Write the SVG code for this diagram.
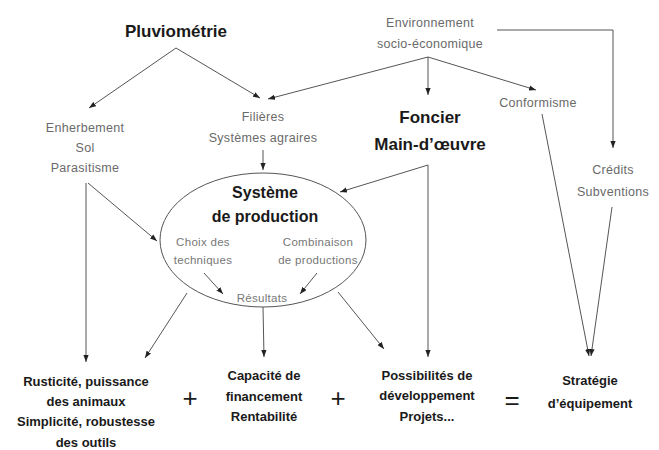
<svg xmlns="http://www.w3.org/2000/svg" width="659" height="450" viewBox="0 0 659 450">
<defs>
<marker id="ah" viewBox="0 0 8 6" refX="8" refY="3" markerWidth="7" markerHeight="5.5" markerUnits="userSpaceOnUse" orient="auto">
<path d="M0,0 L8,3 L0,6 z" fill="#222"/>
</marker>
<style>
text{font-family:"Liberation Sans",Arial,sans-serif;text-anchor:middle}
.t{font-size:12.5px;fill:#6a6a6a;letter-spacing:0.3px}
.s{font-size:11.5px;fill:#777;letter-spacing:0.3px}
.b{font-weight:bold;fill:#1a1a1a}
.big{font-size:17px}
.mid{font-size:16px}
.low{font-size:13px}
.op{font-size:26px;fill:#1a1a1a}
.c{fill:none;stroke:#555;stroke-width:1;marker-end:url(#ah)}
</style>
</defs>
<rect width="659" height="450" fill="#fff"/>
<g id="connectors">
<path class="c" d="M176,48 L89,108"/>
<path class="c" d="M176,48 L260,98"/>
<path class="c" d="M428,57 L268,99"/>
<path class="c" d="M428,57 L428,95"/>
<path class="c" d="M428,57 L536,90"/>
<path class="c" d="M497,30 L613,30 L613,148"/>
<path class="c" d="M263,150 L263,170"/>
<path class="c" d="M88,183 L157,241"/>
<path class="c" d="M86,183 L86,362"/>
<path class="c" d="M428,165 L340,192"/>
<path class="c" d="M428,165 L428,357"/>
<path class="c" d="M204,273 L223,294"/>
<path class="c" d="M317,273 L300,294"/>
<path class="c" d="M187,293 L145,358"/>
<path class="c" d="M263,307 L264,357"/>
<path class="c" d="M338,292 L384,349"/>
<path class="c" d="M542,114 L589,356"/>
<path class="c" d="M612,207 L591,356"/>
</g>
<g id="pluviometrie"><text class="b big" x="176" y="37">Pluviométrie</text></g>
<g id="environnement"><text class="t" x="430" y="27">Environnement</text><text class="t" x="430" y="48">socio-économique</text></g>
<g id="enherbement"><text class="t" x="85" y="132">Enherbement</text><text class="t" x="85" y="152">Sol</text><text class="t" x="85" y="172">Parasitisme</text></g>
<g id="filieres"><text class="t" x="263" y="121">Filières</text><text class="t" x="263" y="142">Systèmes agraires</text></g>
<g id="foncier"><text class="b big" x="430" y="123">Foncier</text><text class="b big" x="430" y="150">Main-d’œuvre</text></g>
<g id="conformisme"><text class="t" x="538" y="107">Conformisme</text></g>
<g id="credits"><text class="t" x="613" y="174">Crédits</text><text class="t" x="613" y="196">Subventions</text></g>
<g id="systeme">
<ellipse cx="263" cy="240" rx="103" ry="67" fill="none" stroke="#555" stroke-width="1"/>
<text class="b mid" x="265" y="198">Système</text><text class="b mid" x="265" y="222">de production</text>
<text class="s" x="203" y="246">Choix des</text><text class="s" x="203" y="264">techniques</text>
<text class="s" x="318" y="246">Combinaison</text><text class="s" x="318" y="264">de productions</text>
<text class="s" x="262" y="302">Résultats</text>
</g>
<g id="rusticite"><text class="b low" x="86" y="386">Rusticité, puissance</text><text class="b low" x="86" y="406">des animaux</text><text class="b low" x="86" y="426">Simplicité, robustesse</text><text class="b low" x="86" y="447">des outils</text></g>
<g id="capacite"><text class="b low" x="264" y="380">Capacité de</text><text class="b low" x="264" y="401">financement</text><text class="b low" x="264" y="421">Rentabilité</text></g>
<g id="possibilites"><text class="b low" x="427" y="380">Possibilités de</text><text class="b low" x="427" y="400">développement</text><text class="b low" x="427" y="421">Projets...</text></g>
<g id="strategie"><text class="b low" x="590" y="385">Stratégie</text><text class="b low" x="590" y="408">d’équipement</text></g>
<g id="operators"><text class="op" x="190" y="407">+</text><text class="op" x="338" y="407">+</text><text class="op" x="512" y="409">=</text></g>
</svg>
